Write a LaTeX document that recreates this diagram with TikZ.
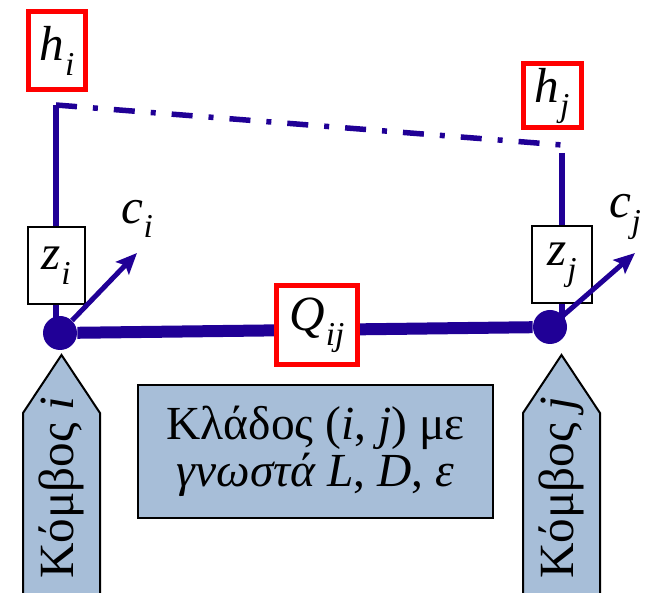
\documentclass[tikz,border=0pt]{standalone}
\usepackage{fontspec}
\setmainfont{Liberation Serif}
\usetikzlibrary{arrows.meta,backgrounds,positioning}
\definecolor{pipeblue}{RGB}{32,0,150}
\definecolor{paleblue}{RGB}{167,190,216}
\newcommand{\pvar}[2]{\textit{#1}\kern.5pt\raisebox{-0.3em}{\fontsize{19}{19}\selectfont\textit{#2}}}
\tikzset{
	hbox/.style={draw=red, line width=0.1cm, fill=white, inner sep=0, font=\fontsize{28}{30}\selectfont},
	zbox/.style={draw=black, line width=0.04cm, fill=white, minimum width=1.14cm, minimum height=1.54cm, inner sep=0, font=\fontsize{28}{30}\selectfont},
	knot/.style={circle, fill=pipeblue, minimum size=0.68cm, inner sep=0},
	pipe/.style={color=pipeblue, line width=0.24cm},
	link/.style={color=pipeblue, line width=0.11cm},
	dashlink/.style={link, dash pattern=on 0.42cm off 0.32cm on 0.1cm off 0.32cm},
	conc/.style={-{Stealth[length=0.42cm,width=0.36cm,inset=0.08cm]}, color=pipeblue, line width=0.1cm},
	clabel/.style={font=\fontsize{28}{30}\selectfont},
	infobox/.style={draw=black, fill=paleblue, line width=0.04cm, minimum width=7.1cm, minimum height=2.66cm, align=center, font=\fontsize{27}{27}\selectfont},
	kombosbox/.style={draw=black, fill=paleblue, line width=0.04cm},
	kombostext/.style={rotate=90, font=\fontsize{28}{32}\selectfont}
}

\begin{document}
\begin{tikzpicture}
\useasboundingbox (0,0) rectangle (12.94,11.84);

%%%% heads
\node[hbox, minimum width=1.14cm, minimum height=1.56cm] (hi) at (1.14,10.82) {\pvar{h}{i}};
\node[hbox, minimum width=1.16cm, minimum height=1.28cm] (hj) at (11.04,9.92) {\pvar{h}{j}};
\coordinate (ai) at (1.12,9.74);
\coordinate (aj) at (11.24,8.94);
\coordinate (bj) at (11.24,8.78);

%%%% elevations and nodes
\node[zbox] (zi) at (1.12,6.52) {\pvar{z}{i}};
\node[zbox, minimum width=1.2cm] (zj) at (11.24,6.54) {\pvar{z}{j}};
\node[knot] (ni) at (1.2,5.18) {};
\node[knot] (nj) at (11.0,5.3) {};

%%%% flow
\node[hbox, minimum width=1.62cm, minimum height=1.58cm] (qij) at (6.34,5.34) {\pvar{Q}{ij}};

\begin{scope}[on background layer]
\draw[link] (ai) -- (zi.north);
\draw[link] (zi.south) -- (zi.south |- ni);
\draw[link] (bj) -- (zj.north);
\draw[link] (zj.south) -- (zj.south |- nj);
\draw[dashlink] (ai) -- (aj);
\draw[pipe] (ni) -- (nj);
\end{scope}

%%%% consumptions
\coordinate (ci) at (2.74,6.78);
\coordinate (cj) at (12.7,6.78);
\draw[conc] (ni) -- (ci);
\draw[conc] (nj) -- (cj);
\node[clabel] (cil) at (2.74,7.46) {\pvar{c}{i}};
\node[clabel] (cjl) at (12.5,7.5) {\pvar{c}{j}};

%%%% branch
\node[infobox] (info) at (6.31,2.81) {Κλάδος (\textit{i}, \textit{j}) με\\ \textit{γνωστά L}, \textit{D}, \textit{ε}};

%%%% node tags
\draw[kombosbox] (0.46,-0.2) -- (0.46,3.58) -- (1.23,4.74) -- (2.0,3.58) -- (2.0,-0.2) -- cycle;
\node[kombostext] (ki) at (1.23,2.08) {Κόμβος \textit{i}};
\draw[kombosbox] (10.46,-0.2) -- (10.46,3.58) -- (11.23,4.74) -- (12.0,3.58) -- (12.0,-0.2) -- cycle;
\node[kombostext] (kj) at (11.23,2.08) {Κόμβος \textit{j}};
\end{tikzpicture}
\end{document}
